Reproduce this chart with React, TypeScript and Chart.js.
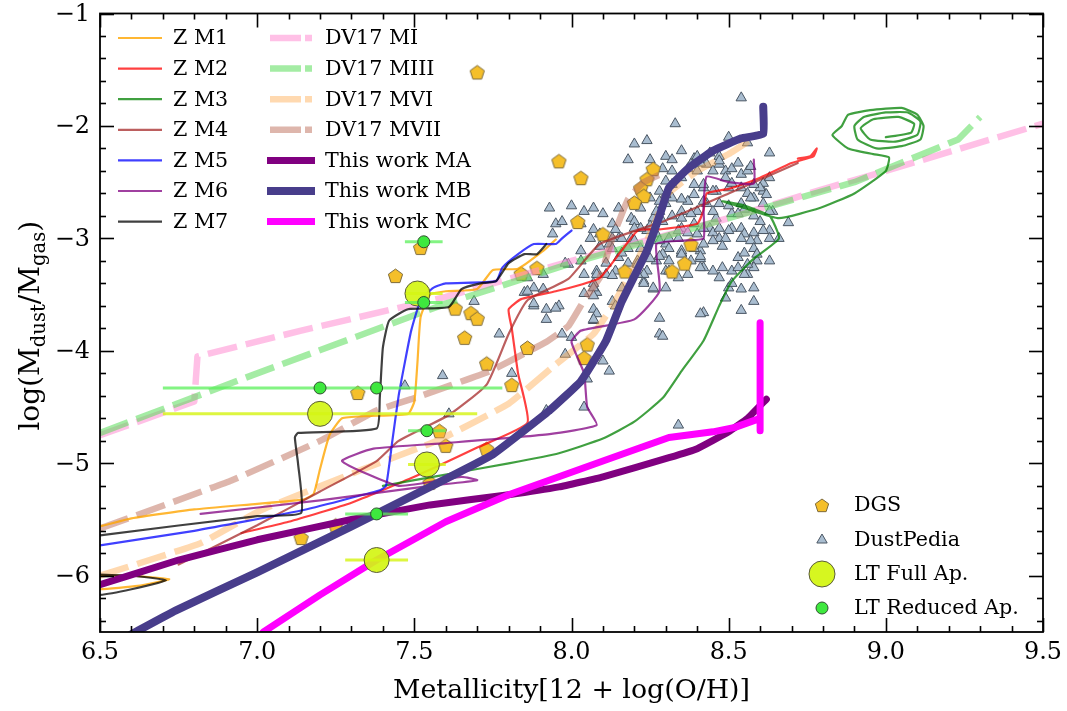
import React, { useEffect, useRef } from 'react';
import { Chart, registerables } from 'chart.js';
Chart.register(...registerables);

const FONT = '"DejaVu Serif", "Liberation Serif", serif';

// ---------- axis ticks ----------
const xTickValues = [6.5, 7.0, 7.5, 8.0, 8.5, 9.0, 9.5];
const xTickLabels = ['6.5', '7.0', '7.5', '8.0', '8.5', '9.0', '9.5'];
const yTickValues = [-6, -5, -4, -3, -2, -1];
const yTickLabels = ['\u22126', '\u22125', '\u22124', '\u22123', '\u22122', '\u22121'];

// ---------- Z models ----------
const zM1 = [[6.4,-6.12],[6.5,-6.12],[6.62,-6.09],[6.72,-6.03],[6.6,-6.0],[6.45,-5.98],[6.38,-5.62],[6.5,-5.56],[6.6,-5.49],[6.8,-5.41],[7.0,-5.36],[7.15,-5.32],[7.18,-5.27],[7.2,-5.05],[7.23,-4.75],[7.27,-4.6],[7.35,-4.58],[7.48,-4.56],[7.5,-4.45],[7.51,-4.1],[7.52,-3.7],[7.55,-3.5],[7.6,-3.47],[7.7,-3.45],[7.75,-3.28],[7.83,-3.27],[7.91,-3.11],[7.95,-3.01]];
const zM2 = [[6.95,-5.62],[7.1,-5.52],[7.3,-5.35],[7.5,-5.12],[7.7,-4.86],[7.86,-4.64],[7.83,-4.2],[7.81,-3.8],[7.8,-3.63],[7.84,-3.54],[7.95,-3.47],[8.09,-3.35],[8.21,-2.93],[8.28,-2.92],[8.4,-2.87],[8.42,-2.75],[8.43,-2.6],[8.5,-2.56],[8.6,-2.46],[8.7,-2.33],[8.77,-2.27],[8.78,-2.2],[8.76,-2.27],[8.72,-2.29]];
const zM3 = [[7.4,-5.2],[7.6,-5.1],[7.8,-5.0],[7.96,-4.91],[8.1,-4.78],[8.2,-4.63],[8.29,-4.42],[8.35,-4.18],[8.42,-3.91],[8.47,-3.6],[8.51,-3.38],[8.58,-3.18],[8.66,-3.0],[8.63,-2.8],[8.54,-2.7],[8.48,-2.67],[8.55,-2.73],[8.66,-2.82],[8.79,-2.73],[8.9,-2.6],[9.0,-2.4],[9.01,-2.28],[8.96,-2.25],[8.88,-2.2],[8.83,-2.08],[8.86,-2.0],[8.88,-1.9],[8.95,-1.86],[9.05,-1.84],[9.1,-1.9],[9.12,-2.0],[9.11,-2.12],[9.05,-2.18],[8.97,-2.2],[8.91,-2.12],[8.9,-2.0],[8.93,-1.92],[9.0,-1.88],[9.07,-1.88],[9.11,-1.96],[9.1,-2.08],[9.03,-2.14],[8.95,-2.12],[8.92,-2.02],[8.96,-1.94],[9.04,-1.92],[9.09,-1.98],[9.08,-2.06],[9.0,-2.1]];
const zM4 = [[6.75,-5.9],[7.0,-5.55],[7.2,-5.25],[7.38,-4.98],[7.45,-4.8],[7.61,-4.57],[7.73,-4.3],[7.8,-3.85],[7.86,-3.55],[7.99,-3.36],[8.09,-3.05],[8.3,-2.84],[8.5,-2.6],[8.72,-2.33]];
const zM5 = [[6.5,-5.73],[6.8,-5.6],[7.14,-5.42],[7.39,-5.24],[7.41,-5.2],[7.43,-4.8],[7.45,-4.4],[7.47,-4.1],[7.49,-3.82],[7.52,-3.55],[7.56,-3.44],[7.6,-3.4],[7.76,-3.38],[7.78,-3.26],[7.83,-3.14],[7.88,-3.05],[7.95,-3.05],[7.97,-3.0],[8.0,-2.93]];
const zM6 = [[6.82,-5.45],[7.2,-5.33],[7.55,-5.2],[7.7,-5.15],[7.65,-5.12],[7.45,-5.2],[7.27,-4.98],[7.37,-4.87],[7.6,-4.82],[7.93,-4.74],[8.08,-4.66],[8.05,-4.5],[8.04,-4.2],[8.0,-3.92],[8.03,-3.82],[8.2,-3.72],[8.28,-3.47],[8.27,-3.05],[8.35,-3.02],[8.42,-3.0],[8.42,-2.73],[8.43,-2.45],[8.5,-2.5],[8.58,-2.51],[8.58,-2.3]];
const zM7 = [[6.4,-5.98],[6.6,-6.0],[6.71,-6.04],[6.6,-6.12],[6.5,-6.17],[6.42,-6.15],[6.42,-5.7],[6.5,-5.64],[7.0,-5.47],[7.14,-5.44],[7.13,-5.0],[7.12,-4.77],[7.13,-4.73],[7.38,-4.69],[7.39,-4.42],[7.4,-3.97],[7.42,-3.73],[7.48,-3.63],[7.61,-3.61],[7.65,-3.45],[7.71,-3.4],[7.76,-3.38],[7.8,-3.22],[7.85,-3.14],[7.89,-3.14],[7.92,-3.05]];

// ---------- DV17 models ----------
const dvMI = [[6.5,-4.75],[6.8,-4.45],[6.81,-4.05],[7.14,-3.82],[7.6,-3.52],[8.0,-3.2],[8.5,-2.82],[8.79,-2.57],[9.0,-2.4],[9.5,-1.98]];
const dvMIII = [[6.5,-4.73],[7.0,-4.2],[7.6,-3.58],[8.0,-3.22],[8.5,-2.82],[8.9,-2.5],[9.23,-2.12],[9.3,-1.92]];
const dvMVI = [[6.5,-6.0],[6.82,-5.71],[7.01,-5.42],[7.33,-5.06],[7.58,-4.79],[7.8,-4.47],[7.95,-4.12],[8.07,-3.85],[8.13,-3.6],[8.2,-3.25],[8.26,-2.9],[8.3,-2.62],[8.4,-2.4],[8.5,-2.25],[8.6,-2.07]];
const dvMVII = [[6.5,-5.58],[6.92,-5.15],[7.2,-4.8],[7.38,-4.53],[7.49,-4.43],[7.74,-4.18],[7.92,-3.92],[7.99,-3.78],[8.04,-3.55],[8.09,-3.35],[8.13,-3.0],[8.18,-2.65],[8.23,-2.5],[8.29,-2.42]];

// ---------- This work ----------
const twMA = [[6.5,-6.08],[6.75,-5.86],[7.0,-5.68],[7.3,-5.5],[7.55,-5.37],[7.8,-5.28],[7.96,-5.21],[8.1,-5.12],[8.31,-4.95],[8.4,-4.87],[8.5,-4.72],[8.56,-4.6],[8.62,-4.43]];
const twMB = [[6.6,-6.52],[6.74,-6.31],[7.0,-5.97],[7.3,-5.56],[7.55,-5.21],[7.75,-4.92],[7.93,-4.53],[8.03,-4.27],[8.11,-3.91],[8.16,-3.56],[8.24,-3.11],[8.28,-2.8],[8.31,-2.55],[8.37,-2.38],[8.45,-2.22],[8.54,-2.11],[8.61,-2.07],[8.61,-1.83]];
const twMC = [[7.02,-6.5],[7.2,-6.17],[7.38,-5.86],[7.6,-5.52],[7.8,-5.28],[7.96,-5.12],[8.1,-4.98],[8.31,-4.77],[8.45,-4.72],[8.52,-4.68],[8.58,-4.62],[8.6,-4.6],[8.6,-4.71],[8.6,-3.75]];

// ---------- observations ----------
const dgs = [[7.7,-1.52],[7.96,-2.31],[8.03,-2.46],[8.26,-2.38],[8.24,-2.47],[8.22,-2.55],[8.23,-2.62],[8.2,-2.68],[8.02,-2.85],[8.1,-2.96],[8.38,-3.05],[8.36,-3.22],[8.32,-3.29],[8.17,-3.29],[7.89,-3.26],[7.84,-3.31],[7.52,-3.08],[7.44,-3.33],[7.63,-3.62],[7.68,-3.66],[7.7,-3.71],[7.66,-3.88],[7.86,-3.97],[8.05,-3.94],[8.04,-4.06],[7.73,-4.11],[7.81,-4.3],[7.32,-4.37],[7.58,-4.71],[7.6,-4.84],[7.73,-4.87],[7.55,-5.17],[7.25,-5.55],[7.14,-5.66]];

const dustPedia = [[8.54,-1.75],[8.33,-1.98],[8.2,-2.16],[8.24,-2.13],[8.18,-2.3],[8.25,-2.3],[8.3,-2.27],[8.32,-2.3],[8.35,-2.22],[8.39,-2.29],[8.44,-2.24],[8.5,-2.1],[8.56,-2.15],[8.63,-2.24],[8.47,-2.27],
[7.93,-2.73],[8.0,-2.71],[8.04,-2.76],[8.07,-2.73],[7.95,-2.87],[7.94,-2.96],[8.1,-2.78],[8.15,-2.73],[8.19,-2.82],[8.09,-2.96],[8.03,-3.11],[7.99,-3.23],[7.91,-3.32],[7.86,-3.35],[7.85,-3.48],[7.88,-3.6],[7.92,-3.63],[7.96,-3.6],[8.07,-3.4],[8.08,-3.48],[8.11,-3.32],[8.14,-3.29],[8.23,-3.38],[8.26,-3.45],[8.3,-3.44],[8.42,-3.66],[8.28,-3.71],[8.15,-3.17],[8.18,-3.09],[8.15,-3.0],[8.19,-3.0],[8.24,-2.93],[8.27,-2.96],[8.3,-3.05],[8.34,-3.0],[8.35,-2.91],[8.4,-2.96],[8.44,-2.91],[8.47,-3.0],[8.41,-3.11],[8.35,-3.13],[8.41,-3.18],[8.42,-3.26],[8.53,-3.17],[8.55,-3.13],[8.59,-3.2],[8.58,-3.26],[8.56,-3.32],[8.63,-2.93],[8.66,-3.0],[8.69,-2.86],[8.64,-2.76],[8.61,-2.58],[8.61,-2.51],[8.63,-2.46],[8.58,-2.64],[8.54,-2.69],[8.51,-2.78],[8.51,-2.91],[8.47,-2.69],[8.46,-2.82],[8.43,-2.69],[8.4,-2.76],[8.37,-2.67],[8.35,-2.76],[8.32,-2.64],[8.3,-2.69],[8.28,-2.76],[8.26,-2.82],[8.28,-2.58],[8.3,-2.49],[8.32,-2.4],[8.35,-2.46],[8.37,-2.38],[8.4,-2.4],[8.43,-2.34],[8.45,-2.4],[8.47,-2.34],[8.49,-2.4],[8.51,-2.38],[8.54,-2.43],[8.56,-2.4],[8.5,-2.55],[8.46,-2.58],[8.42,-2.55],[8.39,-2.52],[8.32,-2.52],[8.22,-2.91],[8.2,-2.85],[8.13,-2.87],[8.12,-3.05],[8.06,-3.0],[8.03,-2.87],[7.97,-2.85],[8.21,-3.2],[8.24,-3.29],[8.27,-3.2],[8.3,-3.29],[8.34,-3.35],[8.37,-3.32],[8.47,-3.35],[8.51,-3.29],[8.5,-3.44],[8.58,-3.44],[8.49,-3.53],[8.54,-3.64],[8.58,-3.56],[8.41,-3.67],
[8.03,-3.2],[7.91,-3.45],[7.88,-3.44],[7.98,-3.22],[8.07,-3.44],[8.07,-3.51],[8.08,-3.29],[7.88,-3.58],[7.95,-3.62],[7.92,-3.72],[7.77,-3.85],[7.97,-3.85],[8.0,-3.88],[7.98,-4.03],[8.07,-3.73],[7.59,-4.22],[7.81,-4.2],[8.05,-4.25],[8.04,-4.5],[7.92,-4.53],[7.61,-4.56],[7.69,-3.56],[7.47,-4.31],[7.86,-3.47],
[8.4,-2.27],[8.29,-2.38],[8.38,-2.34],[8.41,-2.33],[8.47,-2.31],[8.53,-2.33],[8.57,-2.36],[8.6,-2.55],[8.58,-2.52],[8.22,-2.73],[8.25,-2.64],[8.28,-2.67],[8.3,-2.61],[8.35,-2.65],[8.39,-2.61],[8.42,-2.52],[8.45,-2.58],[8.49,-2.46],[8.51,-2.51],[8.54,-2.55],[8.56,-2.6],[8.57,-2.64],[8.62,-2.61],[8.61,-2.69],[8.63,-2.76],[8.6,-2.85],[8.58,-2.8],[8.55,-2.74],[8.53,-2.78],[8.5,-2.71],[8.45,-2.76],[8.42,-2.67],[8.38,-2.78],[8.35,-2.82],[8.32,-2.8],[8.29,-2.85],[8.27,-2.76],[8.07,-2.92],[8.14,-2.92],[8.16,-3.0],[8.2,-2.91],[8.25,-2.89],[8.28,-3.02],[8.31,-3.0],[8.34,-2.93],[8.37,-2.95],[8.39,-2.87],[8.42,-2.91],[8.45,-2.95],[8.47,-2.91],[8.5,-2.93],[8.54,-2.91],[8.55,-2.96],[8.58,-2.95],[8.61,-2.93],[8.63,-3.0],[8.59,-3.02],[8.54,-3.0],[8.49,-3.0],[8.45,-3.02],[8.42,-3.05],[8.39,-3.09],[8.35,-3.11],[8.31,-3.09],[8.29,-3.14],[8.31,-3.2],[8.35,-3.14],[8.38,-3.2],[8.41,-3.16],[8.48,-3.07],[8.57,-3.02],[8.58,-3.09],[8.59,-3.14],[8.63,-3.2],[8.56,-3.23],[8.53,-3.26],[8.48,-3.26],[8.45,-3.29],[8.41,-3.26],[8.55,-3.32],[8.51,-3.4],[8.54,-3.45],[8.28,-3.85],[8.13,-3.56],[8.14,-3.6],[8.04,-3.49],[8.08,-3.32],[8.04,-3.32],[8.16,-3.44],[8.23,-3.4],[8.26,-3.44],[8.23,-3.32],[8.21,-3.32],[8.21,-3.23],[8.18,-3.22],[8.25,-3.18],[8.28,-3.16],[8.31,-3.29],[8.2,-3.02],[8.22,-3.09],[8.16,-3.13],[8.13,-3.09],[8.09,-3.07],[8.13,-3.0],[8.11,-3.22],[8.13,-3.33],[8.07,-3.63],[8.08,-3.67],[8.07,-3.72],[8.29,-3.87],[8.12,-4.18],[8.1,-4.09],[8.34,-4.66]];

// LT points: x, y, xerr low, xerr high
const ltFullX = [7.51, 7.2, 7.54, 7.38];
const ltFullY = [-3.49, -4.56, -5.01, -5.86];
const ltFullLo = [7.47, 6.7, 7.48, 7.28];
const ltFullHi = [7.59, 7.7, 7.6, 7.48];
const ltRedX = [7.53, 7.53, 7.2, 7.38, 7.54, 7.38];
const ltRedY = [-3.03, -3.57, -4.33, -4.33, -4.71, -5.45];
const ltRedLo = [7.47, 7.47, 6.7, 7.28, 7.48, 7.28];
const ltRedHi = [7.59, 7.59, 7.78, 7.48, 7.6, 7.48];

const lineLegend = [
  { label: 'Z M1', color: 'rgba(255,165,0,0.8)', width: 2.2 },
  { label: 'Z M2', color: 'rgba(255,0,0,0.75)', width: 2.2 },
  { label: 'Z M3', color: 'rgba(0,128,0,0.75)', width: 2.2 },
  { label: 'Z M4', color: 'rgba(165,42,42,0.75)', width: 2.2 },
  { label: 'Z M5', color: 'rgba(0,0,255,0.75)', width: 2.2 },
  { label: 'Z M6', color: 'rgba(128,0,128,0.75)', width: 2.2 },
  { label: 'Z M7', color: 'rgba(0,0,0,0.75)', width: 2.2 },
  { label: 'DV17 MI', color: 'rgba(255,140,210,0.55)', width: 6.5, dash: true },
  { label: 'DV17 MIII', color: 'rgba(90,220,90,0.55)', width: 6.5, dash: true },
  { label: 'DV17 MVI', color: 'rgba(255,170,80,0.45)', width: 6.5, dash: true },
  { label: 'DV17 MVII', color: 'rgba(190,110,90,0.5)', width: 6.5, dash: true },
  { label: 'This work MA', color: '#800080', width: 7 },
  { label: 'This work MB', color: '#483d8b', width: 8 },
  { label: 'This work MC', color: '#ff00ff', width: 7 },
];

const toXY = (arr: number[][]) => arr.map(([x, y]) => ({ x, y }));

function makePentagon(r: number) {
  const s = Math.ceil(2 * r + 4);
  const c = document.createElement('canvas');
  c.width = s; c.height = s;
  const g = c.getContext('2d')!;
  g.beginPath();
  for (let k = 0; k < 5; k++) {
    const a = -Math.PI / 2 + (k * 2 * Math.PI) / 5;
    const px = s / 2 + r * Math.cos(a);
    const py = s / 2 + 1 + r * Math.sin(a);
    if (k === 0) g.moveTo(px, py); else g.lineTo(px, py);
  }
  g.closePath();
  g.fillStyle = '#f5bf2a';
  g.fill();
  g.strokeStyle = '#7d6a3a';
  g.lineWidth = 1;
  g.stroke();
  return c;
}

function errorData(xs: number[], ys: number[], lo: number[], hi: number[]) {
  const out: any[] = [];
  xs.forEach((_, i) => {
    out.push({ x: lo[i], y: ys[i] });
    out.push({ x: hi[i], y: ys[i] });
    out.push({ x: hi[i], y: null });
  });
  return out;
}

export default function App() {
  const ref = useRef<HTMLCanvasElement>(null);
  useEffect(() => {
    const canvas = ref.current!;
    const pent = makePentagon(7.5);
    const pentSmall = makePentagon(7);

    const line = (data: number[][], spec: any, order: number, extra: any = {}) => ({
      label: spec.label,
      data: toXY(data),
      showLine: true,
      borderColor: spec.color,
      backgroundColor: spec.color,
      borderWidth: spec.width,
      pointRadius: 0,
      pointHoverRadius: 0,
      tension: 0.15,
      fill: false,
      borderJoinStyle: 'round',
      borderCapStyle: spec.dash ? 'butt' : 'round',
      borderDash: spec.dash ? [30, 9] : [],
      order,
      clip: 0,
      ...extra,
    });

    const L = lineLegend;
    const datasets: any[] = [
      { label: 'LT Reduced Ap.', data: ltRedX.map((x, i) => ({ x, y: ltRedY[i] })), pointStyle: 'circle', pointRadius: 6, backgroundColor: '#3ee83e', borderColor: '#2f4f2f', borderWidth: 1, order: 1, clip: 0 },
      { label: 'ltRedErr', data: errorData(ltRedX, ltRedY, ltRedLo, ltRedHi), showLine: true, spanGaps: false, borderColor: 'rgba(90,240,90,0.75)', borderWidth: 3, pointRadius: 0, order: 2, clip: 0 },
      { label: 'LT Full Ap.', data: ltFullX.map((x, i) => ({ x, y: ltFullY[i] })), pointStyle: 'circle', pointRadius: 12.5, backgroundColor: 'rgba(212,245,20,0.92)', borderColor: '#5a5a3a', borderWidth: 1, order: 3, clip: 0 },
      { label: 'ltFullErr', data: errorData(ltFullX, ltFullY, ltFullLo, ltFullHi), showLine: true, spanGaps: false, borderColor: 'rgba(215,245,30,0.85)', borderWidth: 3, pointRadius: 0, order: 4, clip: 0 },
      line(twMC, L[13], 5, { tension: 0 }),
      line(twMB, L[12], 6, { tension: 0.1 }),
      line(twMA, L[11], 7, { tension: 0.1 }),
      line(zM1, L[0], 14),
      line(zM2, L[1], 13),
      line(zM3, L[2], 12),
      line(zM4, L[3], 11),
      line(zM5, L[4], 10),
      line(zM6, L[5], 9),
      line(zM7, L[6], 8),
      line(dvMI, L[7], 18, { tension: 0 }),
      line(dvMIII, L[8], 17, { tension: 0 }),
      line(dvMVI, L[9], 16, { tension: 0.1 }),
      line(dvMVII, L[10], 15, { tension: 0.1 }),
      { label: 'DGS', data: toXY(dgs), pointStyle: pent, pointRadius: 7.5, order: 19, clip: 0 },
      { label: 'DustPedia', data: toXY(dustPedia), pointStyle: 'triangle', pointRadius: 6, backgroundColor: '#a9bdd0', borderColor: '#4a5663', borderWidth: 1, order: 20, clip: 0 },
    ];

    const fitFont = (ctx: CanvasRenderingContext2D, text: string, target: number, base: number, min: number, max: number) => {
      ctx.font = `${base}px ${FONT}`;
      const w = ctx.measureText(text).width;
      return Math.max(min, Math.min(max, (base * target) / w));
    };

    const decor = {
      id: 'decor',
      afterDatasetsDraw(chart: any) {
        const { ctx, chartArea: a, scales } = chart;
        const xs = scales.x, ys = scales.y;
        ctx.save();
        ctx.strokeStyle = '#000';
        ctx.lineWidth = 1.8;
        ctx.strokeRect(a.left, a.top, a.right - a.left, a.bottom - a.top);
        const tk = (x1: number, y1: number, x2: number, y2: number) => {
          ctx.beginPath(); ctx.moveTo(x1, y1); ctx.lineTo(x2, y2); ctx.stroke();
        };
        ctx.lineWidth = 1.6;
        for (let i = 0; i <= 30; i++) {
          const v = 6.5 + i * 0.1;
          const px = Math.round(xs.getPixelForValue(v)) + 0.5;
          const len = i % 5 === 0 ? 14 : 6;
          tk(px, a.bottom, px, a.bottom - len);
          tk(px, a.top, px, a.top + len);
        }
        for (let i = 0; i <= 27; i++) {
          const v = -6.4 + i * 0.2;
          const major = Math.abs(v - Math.round(v)) < 1e-6;
          const py = Math.round(ys.getPixelForValue(v)) + 0.5;
          const len = major ? 14 : 6;
          tk(a.left, py, a.left + len, py);
          tk(a.right, py, a.right - len, py);
        }
        // tick labels (width-fitted to the reference's "6.5" ≈ 38 px)
        ctx.fillStyle = '#000';
        const tf = fitFont(ctx, '6.5', 38, 23, 21, 26);
        ctx.font = `${tf}px ${FONT}`;
        ctx.textAlign = 'center';
        ctx.textBaseline = 'middle';
        xTickValues.forEach((v, i) => ctx.fillText(xTickLabels[i], xs.getPixelForValue(v), a.bottom + 21));
        ctx.textAlign = 'right';
        yTickValues.forEach((v, i) => ctx.fillText(yTickLabels[i], a.left - 10, ys.getPixelForValue(v) + 1));

        // x title
        const xt = 'Metallicity[12 + log(O/H)]';
        const fx = fitFont(ctx, xt, 357, 24, 21, 27);
        ctx.font = `${fx}px ${FONT}`;
        ctx.textAlign = 'center';
        ctx.textBaseline = 'alphabetic';
        ctx.fillText(xt, (a.left + a.right) / 2, 698);

        // y title with subscripts
        const parts = [
          { t: 'log(M', sub: false }, { t: 'dust', sub: true }, { t: '/M', sub: false }, { t: 'gas', sub: true }, { t: ')', sub: false },
        ];
        const base = 24;
        const meas = (fs: number) => parts.reduce((s, p) => { ctx.font = `${p.sub ? fs * 0.7 : fs}px ${FONT}`; return s + ctx.measureText(p.t).width; }, 0);
        const fy = Math.max(21, Math.min(28, base * 259 / meas(base)));
        const total = meas(fy);
        ctx.save();
        ctx.translate(29, (a.top + a.bottom) / 2 + 3);
        ctx.rotate(-Math.PI / 2);
        let cx = -total / 2;
        ctx.textAlign = 'left';
        parts.forEach((p) => {
          const fs = p.sub ? fy * 0.7 : fy;
          ctx.font = `${fs}px ${FONT}`;
          ctx.fillText(p.t, cx, p.sub ? 10 + fy * 0.22 : 10);
          cx += ctx.measureText(p.t).width;
        });
        ctx.restore();
        ctx.restore();
      },
      afterDraw(chart: any) {
        const { ctx } = chart;
        ctx.save();
        const lf = fitFont(ctx, 'This work MA', 146, 19, 17, 21);
        ctx.font = `${lf}px ${FONT}`;
        ctx.textBaseline = 'middle';
        ctx.textAlign = 'left';
        lineLegend.forEach((e, i) => {
          const col = i < 7 ? 0 : 1;
          const row = col === 0 ? i : i - 7;
          const y = 38 + row * 30.6;
          let x1: number, x2: number, tx: number;
          if (col === 0) { x1 = 118; x2 = 162; tx = 173; }
          else if ((e as any).dash) { x1 = 270; x2 = 312; tx = 325; }
          else { x1 = 267; x2 = 315; tx = 325; }
          ctx.strokeStyle = e.color;
          ctx.lineWidth = e.width;
          ctx.lineCap = 'butt';
          ctx.setLineDash((e as any).dash ? [31, 4] : []);
          ctx.beginPath(); ctx.moveTo(x1, y); ctx.lineTo(x2, y); ctx.stroke();
          ctx.setLineDash([]);
          ctx.fillStyle = '#000';
          ctx.fillText(e.label, tx, y + 1);
        });
        // marker legend
        const mx = 822, tx2 = 854;
        const rows = [505, 540, 574, 608];
        ctx.drawImage(pentSmall, mx - pentSmall.width / 2, rows[0] - pentSmall.height / 2);
        const r = 6;
        ctx.beginPath();
        ctx.moveTo(mx, rows[1] - r);
        ctx.lineTo(mx + r * 0.866, rows[1] + r * 0.5);
        ctx.lineTo(mx - r * 0.866, rows[1] + r * 0.5);
        ctx.closePath();
        ctx.fillStyle = '#a9bdd0'; ctx.fill();
        ctx.strokeStyle = '#4a5663'; ctx.lineWidth = 1; ctx.stroke();
        ctx.beginPath(); ctx.arc(mx, rows[2], 13, 0, Math.PI * 2);
        ctx.fillStyle = 'rgba(212,245,20,0.95)'; ctx.fill(); ctx.strokeStyle = '#5a5a3a'; ctx.stroke();
        ctx.beginPath(); ctx.arc(mx, rows[3], 6, 0, Math.PI * 2);
        ctx.fillStyle = '#3ee83e'; ctx.fill(); ctx.strokeStyle = '#2f4f2f'; ctx.stroke();
        ctx.fillStyle = '#000';
        ['DGS', 'DustPedia', 'LT Full Ap.', 'LT Reduced Ap.'].forEach((t, i) => ctx.fillText(t, tx2, rows[i] + 1));
        ctx.restore();
      },
    };

    const chart = new Chart(canvas, {
      type: 'scatter',
      data: { datasets },
      options: {
        responsive: false,
        animation: false,
        devicePixelRatio: 1,
        events: [],
        layout: { padding: { left: 100, top: 12, right: 24, bottom: 79 } },
        plugins: { legend: { display: false }, tooltip: { enabled: false } },
        scales: {
          x: { type: 'linear', min: 6.5, max: 9.5, display: false },
          y: { type: 'linear', min: -6.5, max: -1, display: false },
        },
      },
      plugins: [decor],
    } as any);
    return () => chart.destroy();
  }, []);

  return (
    <div style={{ position: 'absolute', left: 0, top: 0, width: 1067, height: 711, background: '#fff' }}>
      <canvas ref={ref} width={1067} height={711} style={{ width: 1067, height: 711, display: 'block' }} />
    </div>
  );
}
